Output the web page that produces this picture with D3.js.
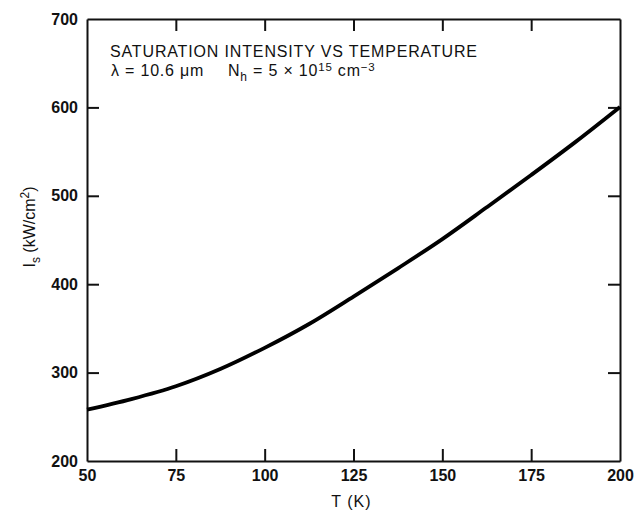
<!DOCTYPE html>
<html>
<head>
<meta charset="utf-8">
<script src="https://cdn.jsdelivr.net/npm/d3@7"></script>
<style>
  body { margin: 0; background: #fff; }
  svg { font-family: "Liberation Sans", Arial, sans-serif; }
  .tick text { font-size: 16px; font-weight: bold; fill: #111; }
  .domain, .tick line { stroke: #111; stroke-width: 2px; }
</style>
</head>
<body>
<svg id="chart" width="644" height="510"></svg>
<script>
// values
const temps = [50, 62.5, 75, 87.5, 100, 112.5, 125, 137.5, 150, 162.5, 175, 187.5, 200];
const intensity = [258, 270, 284.5, 304, 328, 355, 386, 418, 451, 487, 523.5, 561, 600.5];
const xTicks = [50, 75, 100, 125, 150, 175, 200];
const yTicks = [200, 300, 400, 500, 600, 700];

const svg = d3.select('#chart');
const margin = {left: 87, right: 24, top: 19, bottom: 49};
const width = 644 - margin.left - margin.right,
      height = 510 - margin.top - margin.bottom;

const g = svg.append('g').attr('transform', `translate(${margin.left},${margin.top})`);

const x = d3.scaleLinear().domain([50, 200]).range([0, width]);
const y = d3.scaleLinear().domain([200, 700]).range([height, 0]);

// inward ticks on all four sides
g.append('g').attr('transform', `translate(0,${height})`)
  .call(d3.axisBottom(x).tickValues(xTicks).tickSize(-12).tickSizeOuter(0).tickPadding(9));
g.append('g')
  .call(d3.axisTop(x).tickValues(xTicks).tickSize(-12).tickSizeOuter(0).tickFormat(''));
g.append('g')
  .call(d3.axisLeft(y).tickValues(yTicks).tickSize(-12).tickSizeOuter(0).tickPadding(9));
g.append('g').attr('transform', `translate(${width},0)`)
  .call(d3.axisRight(y).tickValues(yTicks).tickSize(-12).tickSizeOuter(0).tickFormat(''));

// no tick lines on the corners
g.selectAll('.tick').filter(d => d === 50 || d === 200 || d === 700)
  .select('line').remove();

const line = d3.line()
  .x((d, i) => x(temps[i]))
  .y(d => y(d))
  .curve(d3.curveMonotoneX);

g.append('path')
  .datum(intensity)
  .attr('d', line)
  .attr('fill', 'none')
  .attr('stroke', '#000')
  .attr('stroke-width', 3.8);

// annotation text
g.append('text')
  .attr('x', 23).attr('y', 37.5)
  .attr('font-size', 16).attr('letter-spacing', 0.85).attr('fill', '#111')
  .text('SATURATION INTENSITY VS TEMPERATURE');

const sub = g.append('text')
  .attr('x', 24).attr('y', 56.5)
  .attr('font-size', 16).attr('letter-spacing', 0.8).attr('fill', '#111');
sub.append('tspan').text('λ = 10.6 μm');
sub.append('tspan').attr('x', 141).text('N');
sub.append('tspan').attr('dy', 5).attr('font-size', 12).text('h');
sub.append('tspan').attr('dy', -5).text(' = 5 × 10');
sub.append('tspan').attr('dy', -5).attr('font-size', 11.5).text('15');
sub.append('tspan').attr('dy', 5).text(' cm');
sub.append('tspan').attr('dy', -5).attr('font-size', 11.5).text('−3');

// axis titles
svg.append('text')
  .attr('x', margin.left + x(125) - 2).attr('y', 507)
  .attr('text-anchor', 'middle').attr('font-size', 16).attr('letter-spacing', 1)
  .attr('fill', '#111')
  .text('T (K)');

const yl = svg.append('text')
  .attr('transform', 'translate(35,227) rotate(-90)')
  .attr('text-anchor', 'middle').attr('font-size', 16).attr('fill', '#111');
yl.append('tspan').text('I');
yl.append('tspan').attr('dy', 5).attr('font-size', 12).text('s');
yl.append('tspan').attr('dy', -5).text(' (kW/cm');
yl.append('tspan').attr('dy', -6).attr('font-size', 12).text('2');
yl.append('tspan').attr('dy', 6).text(')');
</script>
</body>
</html>
